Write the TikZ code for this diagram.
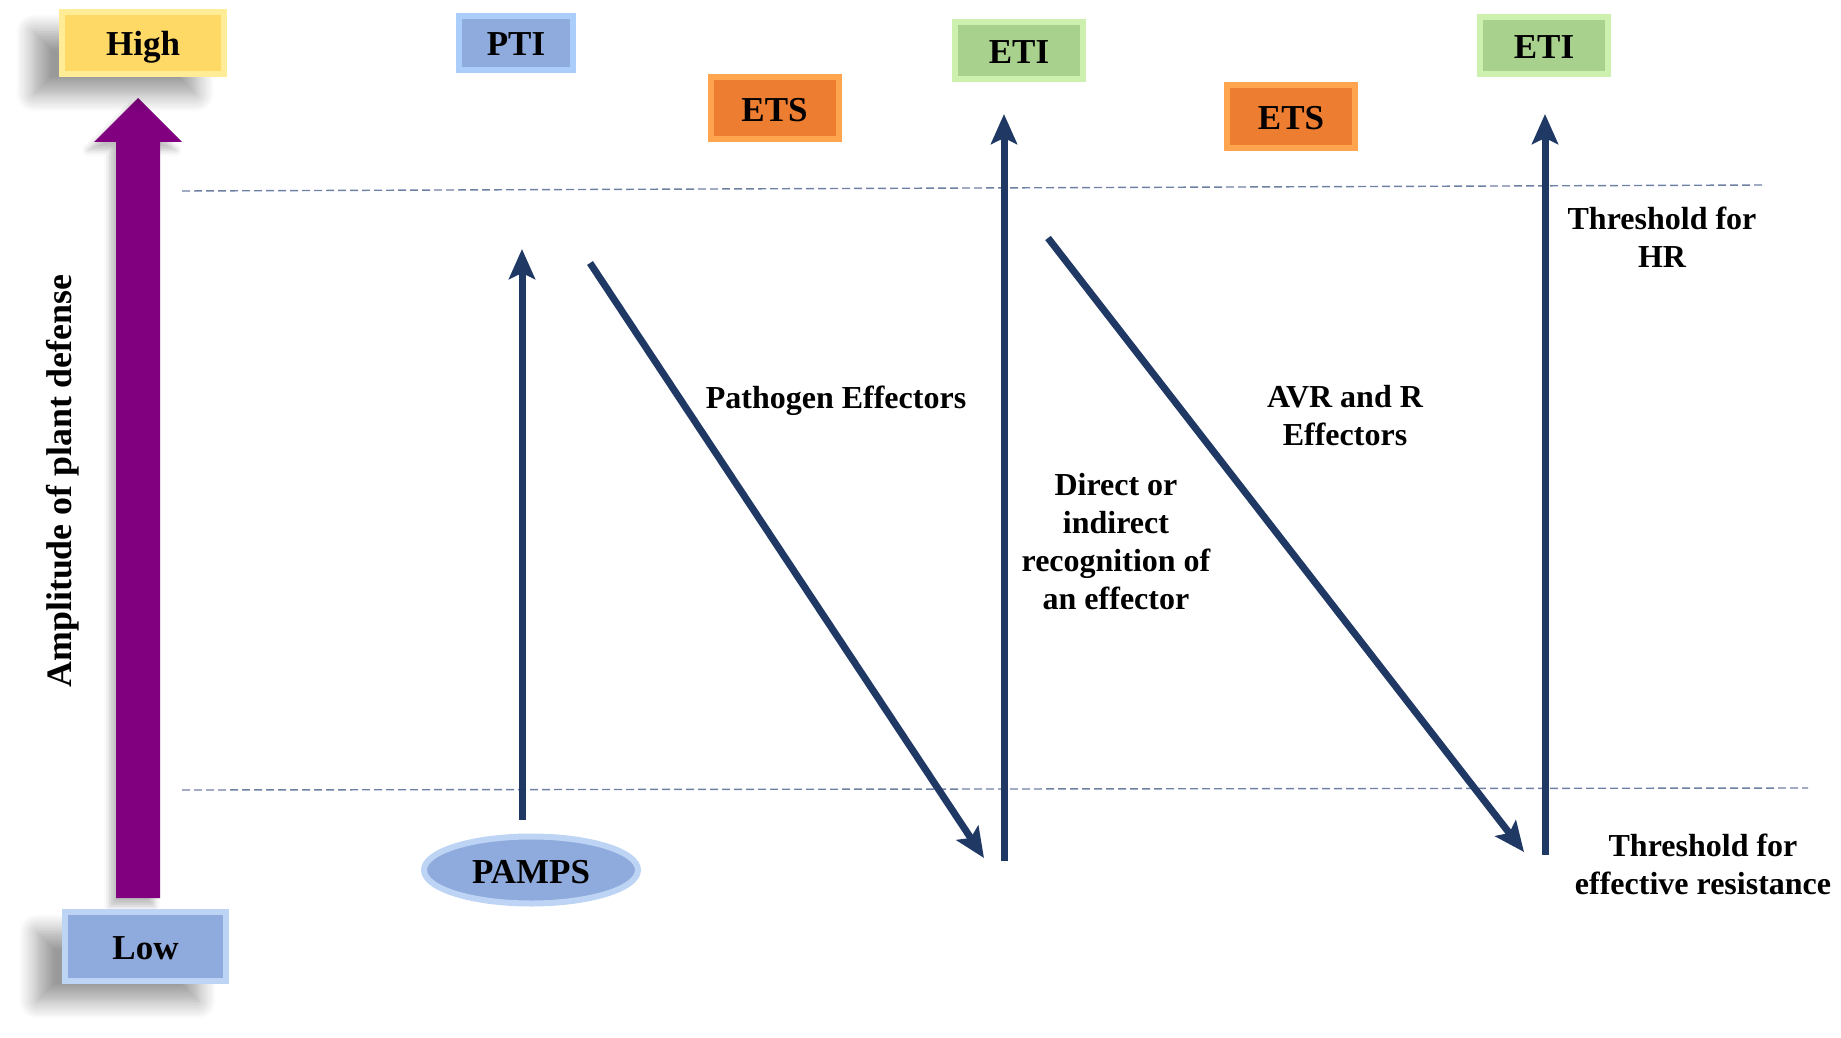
\documentclass[tikz,border=0pt]{standalone}
\usepackage{fontspec}
\setmainfont{Liberation Serif}
\usetikzlibrary{arrows.meta,shapes.geometric,shadows.blur}
\definecolor{navy}{RGB}{31,56,100}
\definecolor{dashc}{RGB}{110,128,165}
\definecolor{purp}{RGB}{128,0,128}
\definecolor{yelF}{RGB}{255,217,102}
\definecolor{yelB}{RGB}{255,236,150}
\definecolor{bluF}{RGB}{143,170,220}
\definecolor{bluB}{RGB}{190,212,245}
\definecolor{ptiB}{RGB}{170,205,250}
\definecolor{oraF}{RGB}{237,125,49}
\definecolor{oraB}{RGB}{255,165,80}
\definecolor{grnF}{RGB}{169,209,142}
\definecolor{grnB}{RGB}{205,240,175}
\begin{document}
\begin{tikzpicture}[x=0.5pt,y=-0.5pt,
  boxlab/.style={font=\fontsize{17.5}{20}\selectfont\bfseries, inner sep=0pt, line width=3pt,
     text height=15pt, text depth=2pt},
  softshadow/.style={blur shadow={shadow xshift=-14pt, shadow yshift=-10pt, shadow blur radius=9pt, shadow blur steps=12, shadow opacity=40}},
  hibox/.style={boxlab, fill=yelF, draw=yelB, minimum width=81pt, minimum height=31pt, softshadow},
  lobox/.style={boxlab, fill=bluF, draw=bluB, minimum width=80.5pt, minimum height=34.5pt, softshadow},
  ptibox/.style={boxlab, fill=bluF, draw=ptiB, minimum width=57pt, minimum height=27pt},
  etsbox/.style={boxlab, fill=oraF, draw=oraB, minimum width=64pt, minimum height=31pt},
  etibox/.style={boxlab, fill=grnF, draw=grnB, minimum width=64pt, minimum height=28.5pt},
  lab/.style={font=\fontsize{16}{19}\selectfont\bfseries, align=center, inner sep=0pt},
  navyarrow/.style={draw=navy, line width=3.5pt, -{Stealth[length=15pt,width=13pt,inset=3pt]}},
  thresh/.style={draw=dashc, line width=0.7pt, dash pattern=on 4pt off 2pt}
]
\useasboundingbox (0,0) rectangle (1841,1038);
% purple block arrow
\fill[purp, blur shadow={shadow xshift=-3pt, shadow yshift=-4pt, shadow blur radius=3pt, shadow opacity=25}]
  (116,898) -- (116,142) -- (94,142) -- (138,98) -- (182,142) -- (160,142) -- (160,898) -- cycle;
% boxes
\node[hibox] (high) at (143,43) {High};
\node[lobox] (low) at (145.5,946.5) {Low};
\node[ptibox] (pti) at (516,43) {PTI};
\node[etsbox] (ets1) at (774.5,108.5) {ETS};
\node[etibox] (eti1) at (1019,50.5) {ETI};
\node[etsbox] (ets2) at (1291,116.5) {ETS};
\node[etibox] (eti2) at (1544,45.5) {ETI};
\node[boxlab, ellipse, fill=bluF, draw=bluB, minimum width=107pt, minimum height=33.5pt] (pamps) at (531,870) {PAMPS};
% thresholds
\coordinate (dl1) at (182,191);
\coordinate (dr1) at (1763,185);
\coordinate (dl2) at (182,790);
\coordinate (dr2) at (1808,788);
\draw[thresh] (dl1) -- (dr1);
\draw[thresh] (dl2) -- (dr2);
% navy arrows
\coordinate (p1s) at (522,820);
\coordinate (p1e) at (522,249);
\coordinate (p2s) at (590,263);
\coordinate (p2e) at (984,858);
\coordinate (p3s) at (1004,861);
\coordinate (p3e) at (1004,114);
\coordinate (p4s) at (1048,238);
\coordinate (p4e) at (1524,852);
\coordinate (p5s) at (1545,855);
\coordinate (p5e) at (1545,114);
\draw[navyarrow] (p1s) -- (p1e);
\draw[navyarrow] (p2s) -- (p2e);
\draw[navyarrow] (p3s) -- (p3e);
\draw[navyarrow] (p4s) -- (p4e);
\draw[navyarrow] (p5s) -- (p5e);
% labels
\node[lab, rotate=90, font=\fontsize{17.9}{21}\selectfont\bfseries] (amp) at (63,481) {Amplitude of plant defense};
\node[lab] (pe) at (836,401) {Pathogen Effectors};
\node[lab] (avr) at (1345,415.5) {AVR and R\\Effectors};
\node[lab] (direct) at (1116,541.5) {Direct or\\indirect\\recognition of\\an effector};
\node[lab] (thr) at (1662,237) {Threshold for\\HR};
\node[lab] (ter) at (1703,864) {Threshold for\\effective resistance};
\end{tikzpicture}
\end{document}
